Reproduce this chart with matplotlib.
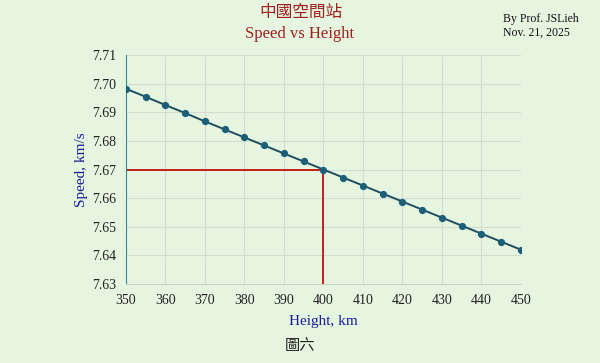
import matplotlib
matplotlib.use("Agg")
import matplotlib.pyplot as plt

heights = [350, 355, 360, 365, 370, 375, 380, 385, 390, 395, 400,
           405, 410, 415, 420, 425, 430, 435, 440, 445, 450]
speeds = [7.6982, 7.6954, 7.6925, 7.6897, 7.6868, 7.6840, 7.6812, 7.6784,
          7.6756, 7.6728, 7.6700, 7.6672, 7.6644, 7.6616, 7.6588, 7.6560,
          7.6532, 7.6504, 7.6476, 7.6448, 7.6420]
mark_height = 400
mark_speed = 7.67
xticks = [350, 360, 370, 380, 390, 400, 410, 420, 430, 440, 450]
yticks = [7.63, 7.64, 7.65, 7.66, 7.67, 7.68, 7.69, 7.70, 7.71]

bg = "#e6f5e0"
serif = ["Liberation Serif", "DejaVu Serif"]
cjk = ["Noto Sans CJK TC", "DejaVu Sans"]

fig = plt.figure(figsize=(6.0, 3.63), dpi=100, facecolor=bg)
ax = fig.add_axes([0.21, 0.2176, 0.658, 0.6309], facecolor=bg)

ax.plot(heights, speeds, color="#1d4e5f", lw=1.4, marker="o", ms=4.2,
        markerfacecolor="#1b5f78", markeredgecolor="#1b5f78", zorder=3)
ax.plot([heights[0], mark_height], [mark_speed, mark_speed], color="#c0201a", lw=1.4, zorder=2)
ax.plot([mark_height, mark_height], [yticks[0], mark_speed], color="#c0201a", lw=1.4, zorder=2)

ax.set_xlim(350, 450)
ax.set_ylim(7.63, 7.71)
ax.set_xticks(xticks)
ax.set_yticks(yticks)
ax.set_yticklabels([f"{v:.2f}" for v in yticks])
ax.grid(True, color="#d2dcd0", lw=0.8)
ax.set_axisbelow(True)
for s in ["top", "right"]:
    ax.spines[s].set_visible(False)
ax.spines["left"].set_color("#3a8a9a")
ax.spines["bottom"].set_color("#c8d4c6")
ax.tick_params(axis="x", length=0, pad=7, labelsize=10)
ax.tick_params(axis="y", length=0, pad=7, labelsize=10)
for lab in ax.get_xticklabels() + ax.get_yticklabels():
    lab.set_fontfamily(serif)
    lab.set_color("#222222")

ax.set_xlabel("Height, km", fontfamily=serif, fontsize=11, color="#1a1a9a", labelpad=6)
ax.set_ylabel("Speed, km/s", fontfamily=serif, fontsize=11, color="#1a1a9a", labelpad=3)

fig.text(0.502, 0.965, "中國空間站", ha="center", va="center", fontfamily=cjk,
         fontsize=12, color="#a02020")
fig.text(0.5, 0.907, "Speed vs Height", ha="center", va="center", fontfamily=serif,
         fontsize=12, color="#a02020")
fig.text(0.838, 0.948, "By Prof. JSLieh", ha="left", va="center", fontfamily=serif,
         fontsize=8.5, color="#111111")
fig.text(0.838, 0.909, "Nov. 21, 2025", ha="left", va="center", fontfamily=serif,
         fontsize=8.5, color="#111111")
fig.text(0.5, 0.047, "圖六", ha="center", va="center", fontfamily=cjk,
         fontsize=11, color="#222222")

fig.savefig("out.png", dpi=100, facecolor=bg)
